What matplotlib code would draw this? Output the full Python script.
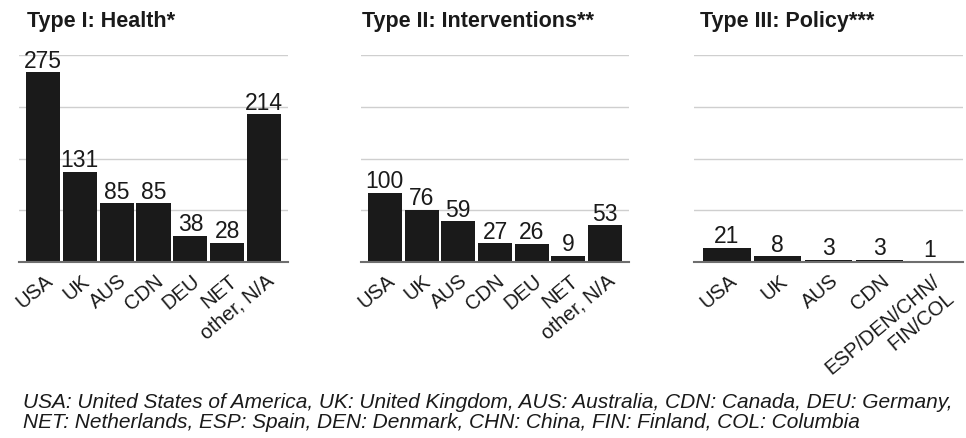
import matplotlib
matplotlib.use('Agg')
import matplotlib.pyplot as plt
from matplotlib.transforms import ScaledTranslation

plt.rcParams['font.family'] = ['Liberation Sans', 'DejaVu Sans']

# data
health_labels = ['USA', 'UK', 'AUS', 'CDN', 'DEU', 'NET', 'other, N/A']
health_values = [275, 131, 85, 85, 38, 28, 214]

interv_labels = ['USA', 'UK', 'AUS', 'CDN', 'DEU', 'NET', 'other, N/A']
interv_values = [100, 76, 59, 27, 26, 9, 53]

policy_labels = ['USA', 'UK', 'AUS', 'CDN', 'ESP/DEN/CHN/\nFIN/COL']
policy_values = [21, 8, 3, 3, 1]

titles = ['Type I: Health*', 'Type II: Interventions**', 'Type III: Policy***']
grid_ticks = [75, 150, 225, 300]

footnote_lines = [
    "USA: United States of America, UK: United Kingdom, AUS: Australia, "
    "CDN: Canada, DEU: Germany,",
    "NET: Netherlands, ESP: Spain, DEN: Denmark, CHN: China, FIN: Finland, "
    "COL: Columbia",
]

W, H = 966, 439
fig = plt.figure(figsize=(W / 100, H / 100), dpi=100)

# pixel boxes (left, right) for each panel, shared top/bottom
boxes = [(19, 288), (361, 629), (694, 963)]
top_px, base_px = 56, 263
title_x = [27, 362, 700]

panels = [(health_labels, health_values),
          (interv_labels, interv_values),
          (policy_labels, policy_values)]

for i, ((labels, values), (l, r)) in enumerate(zip(panels, boxes)):
    ax = fig.add_axes([l / W, (H - base_px) / H, (r - l) / W, (base_px - top_px) / H])
    x = list(range(len(values)))
    bars = ax.bar(x, values, width=0.93, color='#1a1a1a', zorder=3)
    for b, v in zip(bars, values):
        ax.annotate(str(v), (b.get_x() + b.get_width() / 2, v),
                    xytext=(0, 0.5), textcoords='offset points',
                    ha='center', va='bottom', fontsize=16.5, color='#1a1a1a')
    ax.set_xlim(-0.65, len(values) - 1 + 0.65)
    ax.set_ylim(0, 300)
    ax.set_yticks(grid_ticks)
    ax.set_yticklabels([])
    ax.tick_params(axis='y', length=0)
    ax.grid(axis='y', color='#cfcfcf', linewidth=1, zorder=0)
    for s in ['top', 'right', 'left']:
        ax.spines[s].set_visible(False)
    ax.spines['bottom'].set_color('#6e6e6e')
    ax.spines['bottom'].set_linewidth(1.5)
    ax.spines['bottom'].set_zorder(4)
    ax.set_xticks(x)
    ax.set_xticklabels(labels, rotation=40, ha='right', va='top',
                       rotation_mode='anchor', fontsize=14.5, color='#1a1a1a')
    ax.tick_params(axis='x', length=0, pad=6)
    for lbl in ax.get_xticklabels():
        lbl.set_transform(lbl.get_transform() +
                          ScaledTranslation(1 / 100, 0, fig.dpi_scale_trans))
    fig.text(title_x[i] / W, (H - 27) / H, titles[i], fontsize=15.5,
             fontweight='bold', color='#1a1a1a', ha='left', va='baseline')

for line, y in zip(footnote_lines, [408, 428]):
    fig.text(23 / W, (H - y) / H, line, fontsize=15, style='italic',
             color='#1a1a1a', ha='left', va='baseline')

fig.savefig('out.png', dpi=100)
